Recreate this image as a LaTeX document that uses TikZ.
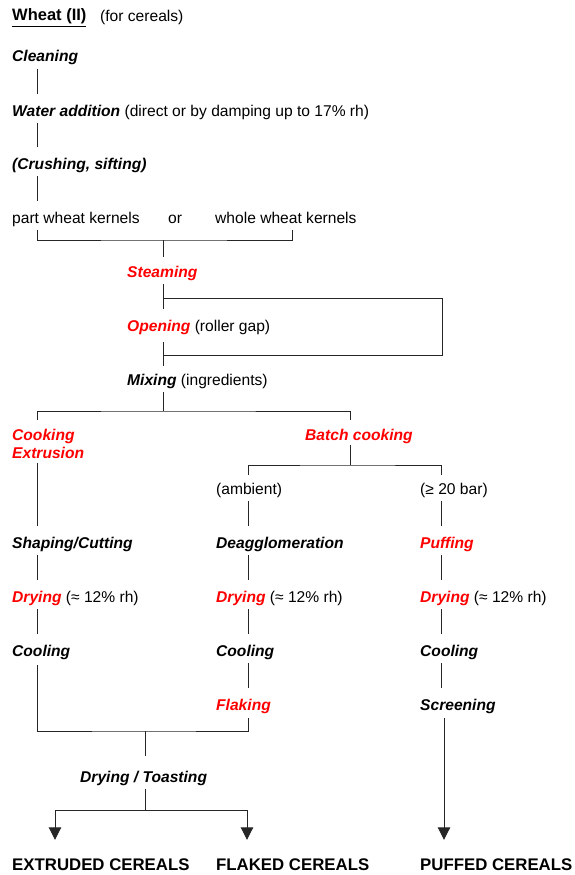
\documentclass[tikz,border=0pt]{standalone}
\usepackage{fontspec}
\setmainfont{Liberation Sans}
\usetikzlibrary{arrows.meta,positioning}
\definecolor{procred}{RGB}{255,0,0}
\newcommand{\stp}[1]{\textbf{\textit{#1}}}
\newcommand{\hotstp}[1]{\textcolor{procred}{\textbf{\textit{#1}}}}
\tikzset{
  lab/.style={anchor=base west, inner sep=0pt, text height=11pt, text depth=3pt, font=\fontsize{15.6}{18}\selectfont},
  pair/.style={anchor=north west, inner sep=0pt, align=left, font=\fontsize{15.6}{18}\selectfont},
  product/.style={anchor=base west, inner sep=0pt, text height=12pt, text depth=0pt, font=\fontsize{16.8}{20}\selectfont\bfseries},
  wire/.style={line width=0.9pt, draw=black!85},
  link/.style={wire, shorten <=4pt, shorten >=11pt},
  flow/.style={wire, -{Triangle[length=12.5pt,width=12.5pt]}}
}
\begin{document}
\begin{tikzpicture}[x=1pt, y=-1pt]
  \useasboundingbox (0,0) rectangle (574,875);

  % line columns and junctions
  \coordinate (c1) at (37,0);
  \coordinate (c2) at (248,0);
  \coordinate (c3) at (441,0);
  \coordinate (cm) at (163,0);
  \coordinate (cb) at (350,0);
  \coordinate (ck) at (292,0);
  \coordinate (a1) at (55,0);
  \coordinate (a2) at (247,0);
  \coordinate (a3) at (444,0);
  \coordinate (loopr) at (442,0);
  \coordinate (j1) at (163,240);
  \coordinate (loopa) at (163,298);
  \coordinate (loopb) at (163,355);
  \coordinate (j2) at (163,411);
  \coordinate (j3) at (350,465);
  \coordinate (j4) at (145,731);
  \coordinate (j5) at (145,810);

  \node[lab, font=\fontsize{16.5}{18}\selectfont] (title) at (12,21) {\underline{\textbf{Wheat (II)}}};
  \node[lab] (forc) at (100,22) {(for cereals)};
  \node[lab] (clean) at (12,62) {\stp{Cleaning}};
  \node[lab] (water) at (12,116) {\stp{Water addition} (direct or by damping up to 17\% rh)};
  \node[lab] (crush) at (12,169) {\stp{(Crushing, sifting)}};
  \node[lab] (part) at (12,223) {part wheat kernels};
  \node[lab] (or) at (168,223) {or};
  \node[lab] (whole) at (215,223) {whole wheat kernels};
  \node[lab] (steam) at (127,277) {\hotstp{Steaming}};
  \node[lab] (open) at (127,331) {\hotstp{Opening} (roller gap)};
  \node[lab] (mix) at (127,385) {\stp{Mixing} (ingredients)};
  \node[pair] (cookex) at (12,429) {\hotstp{Cooking}\\\hotstp{Extrusion}};
  \node[lab] (batch) at (305,440) {\hotstp{Batch cooking}};
  \node[lab] (amb) at (216,494) {(ambient)};
  \node[lab] (bar) at (420,494) {(≥ 20 bar)};
  \node[lab] (shape) at (12,548) {\stp{Shaping/Cutting}};
  \node[lab] (deagg) at (216,548) {\stp{Deagglomeration}};
  \node[lab] (puff) at (420,548) {\hotstp{Puffing}};
  \node[lab] (dryA) at (12,602) {\hotstp{Drying} (≈ 12\% rh)};
  \node[lab] (dryB) at (216,602) {\hotstp{Drying} (≈ 12\% rh)};
  \node[lab] (dryC) at (420,602) {\hotstp{Drying} (≈ 12\% rh)};
  \node[lab] (coolA) at (12,656) {\stp{Cooling}};
  \node[lab] (coolB) at (216,656) {\stp{Cooling}};
  \node[lab] (coolC) at (420,656) {\stp{Cooling}};
  \node[lab] (flake) at (216,710) {\hotstp{Flaking}};
  \node[lab] (screen) at (420,710) {\stp{Screening}};
  \node[lab] (toast) at (80,782) {\stp{Drying / Toasting}};
  \node[product] (extr) at (12,870) {EXTRUDED CEREALS};
  \node[product] (flkd) at (216,870) {FLAKED CEREALS};
  \node[product] (pufd) at (420,870) {PUFFED CEREALS};

  \draw[link] (clean.south -| c1) -- (water.north -| c1);
  \draw[link] (water.south -| c1) -- (crush.north -| c1);
  \draw[link] (crush.south -| c1) -- (part.north -| c1);
  \draw[wire, shorten <=4pt, shorten >=4pt] (part.south -| c1) |- (j1) -| (whole.south -| ck);
  \draw[wire, shorten >=9pt] (j1) -- (steam.north -| j1);
  \draw[link] (steam.south -| cm) -- (open.north -| cm);
  \draw[wire] (loopa) -| (loopr |- loopb) -- (loopb);
  \draw[link, shorten <=8pt, shorten >=8pt] (open.south -| cm) -- (mix.north -| cm);
  \draw[wire, shorten <=4pt] (mix.south -| cm) -- (j2);
  \draw[wire, shorten <=9pt, shorten >=9pt] (cookex.north -| c1) |- (j2) -| (batch.north -| cb);
  \draw[wire, shorten <=2pt] (batch.south -| cb) -- (j3);
  \draw[wire, shorten <=8pt, shorten >=8pt] (amb.north -| c2) |- (j3) -| (bar.north -| c3);
  \draw[link] (cookex.south -| c1) -- (shape.north -| c1);
  \draw[link] (amb.south -| c2) -- (deagg.north -| c2);
  \draw[link] (bar.south -| c3) -- (puff.north -| c3);
  \foreach \a/\b/\c in {shape/dryA/c1, deagg/dryB/c2, puff/dryC/c3,
                        dryA/coolA/c1, dryB/coolB/c2, dryC/coolC/c3,
                        coolB/flake/c2, coolC/screen/c3}
    \draw[link] (\a.south -| \c) -- (\b.north -| \c);
  \draw[wire, shorten <=6pt, shorten >=5pt] (coolA.south -| c1) |- (j4) -| (flake.south -| c2);
  \draw[wire, shorten >=15pt] (j4) -- (toast.north -| j4);
  \draw[wire, shorten <=4pt] (toast.south -| j5) -- (j5);
  \draw[flow, shorten >=18pt] (j5) -| (extr.north -| a1);
  \draw[flow, shorten >=18pt] (j5) -| (flkd.north -| a2);
  \draw[flow, shorten <=5pt, shorten >=18pt] (screen.south -| a3) -- (pufd.north -| a3);
\end{tikzpicture}
\end{document}
